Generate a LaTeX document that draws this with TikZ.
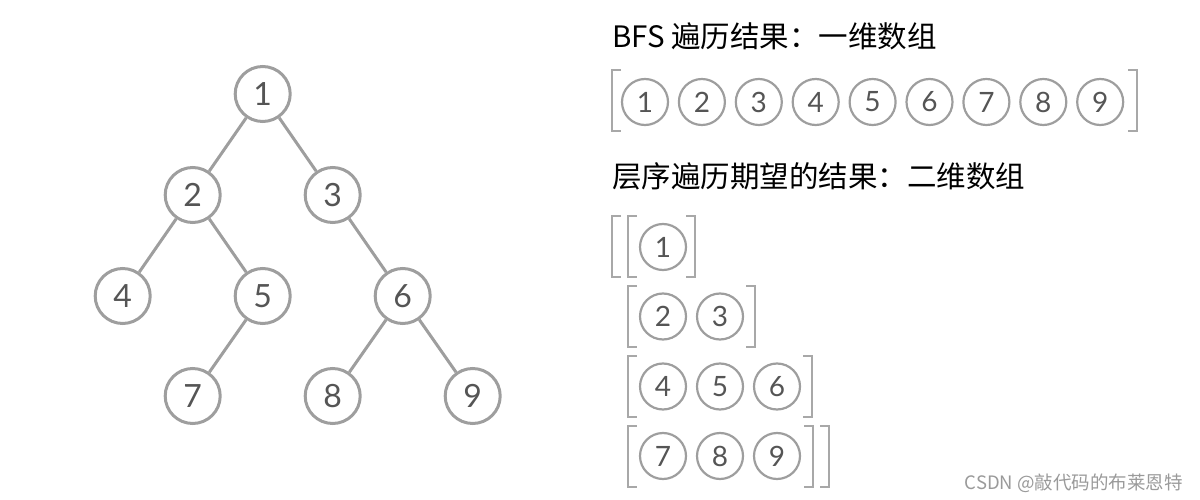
\documentclass[tikz,border=0pt]{standalone}
\usepackage{fontspec}
\newfontfamily\lato{Lato}
\newfontfamily\cjk{Noto Sans CJK SC}
\definecolor{circ}{HTML}{9E9E9E}
\definecolor{digit}{HTML}{555555}
\definecolor{brk}{HTML}{A8A8A8}
\definecolor{wm}{HTML}{9A9A9A}
\newcommand\LBr[3]{\draw[brkline] (#1+9,#2) -- (#1,#2) -- (#1,#3) -- (#1+9,#3);}
\newcommand\RBr[3]{\draw[brkline] (#1-9,#2) -- (#1,#2) -- (#1,#3) -- (#1-9,#3);}
\tikzset{
  treenode/.style={circle, draw=circ, line width=3pt, minimum size=55pt, inner sep=0pt,
    text=digit, font=\lato\fontsize{32}{32}\selectfont},
  arrnode/.style={circle, draw=circ, line width=2.2pt, minimum size=46pt, inner sep=0pt,
    text=digit, font=\lato\fontsize{28}{28}\selectfont},
  edge/.style={draw=circ, line width=3pt},
  brkline/.style={draw=brk, line width=2pt},
  title/.style={anchor=west, inner sep=0pt, text=black, font=\cjk\fontsize{29.5}{29.5}\selectfont},
}
\begin{document}
\begin{tikzpicture}[x=1pt,y=-1pt]
\useasboundingbox (0,0) rectangle (1200,500);
% tree
\node[treenode] (t1) at (262.7,94) {1};
\node[treenode] (t2) at (192.7,195) {2};
\node[treenode] (t3) at (332.7,195) {3};
\node[treenode] (t4) at (122.7,296) {4};
\node[treenode] (t5) at (262.7,296) {5};
\node[treenode] (t6) at (402.7,296) {6};
\node[treenode] (t7) at (192.7,396) {7};
\node[treenode] (t8) at (332.7,396) {8};
\node[treenode] (t9) at (472.7,396) {9};
\draw[edge] (t1) -- (t2);
\draw[edge] (t1) -- (t3);
\draw[edge] (t2) -- (t4);
\draw[edge] (t2) -- (t5);
\draw[edge] (t3) -- (t6);
\draw[edge] (t5) -- (t7);
\draw[edge] (t6) -- (t8);
\draw[edge] (t6) -- (t9);
% titles
\node[title] (h1) at (612,36) {BFS 遍历结果：一维数组};
\node[title] (h2) at (612,176) {层序遍历期望的结果：二维数组};
% BFS row
\foreach \i in {1,...,9} {
  \node[arrnode] (b\i) at ({645+56.9*(\i-1)},102) {\i};
}
\LBr{612}{70}{131}
\RBr{1137}{70}{131}
% nested rows
\node[arrnode] (r1a) at (663,247) {1};
\node[arrnode] (r2a) at (663,316.5) {2};
\node[arrnode] (r2b) at (720,316.5) {3};
\node[arrnode] (r3a) at (663,386.5) {4};
\node[arrnode] (r3b) at (720,386.5) {5};
\node[arrnode] (r3c) at (777,386.5) {6};
\node[arrnode] (r4a) at (663,456) {7};
\node[arrnode] (r4b) at (720,456) {8};
\node[arrnode] (r4c) at (777,456) {9};
\LBr{612}{216}{277}
\LBr{628}{216}{277}
\RBr{695}{216}{277}
\LBr{628}{286}{347}
\RBr{755}{286}{347}
\LBr{628}{356}{417}
\RBr{812}{356}{417}
\LBr{628}{426}{487}
\RBr{813}{426}{487}
\RBr{829}{426}{487}
% watermark
\node[anchor=east, inner sep=0pt, text=wm, font=\cjk\fontsize{18.5}{18.5}\selectfont] (wmk) at (1183,483) {CSDN @敲代码的布莱恩特};
\end{tikzpicture}
\end{document}
